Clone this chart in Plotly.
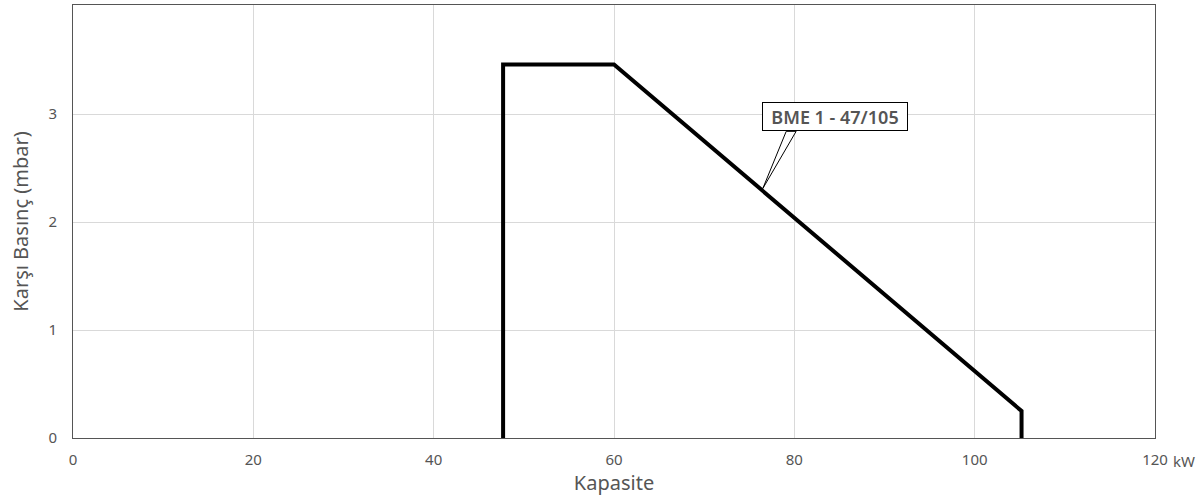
import plotly.graph_objects as go

capacity_kw = [47.7, 47.7, 60.0, 105.2, 105.2]
back_pressure_mbar = [0.0, 3.46, 3.46, 0.25, 0.0]
series_name = "BME 1 - 47/105"
label_point = (76.5, 2.31)      # where the callout points on the curve
label_box = (84.5, 2.975)       # centre of the callout box
label_wedge_base = ([79.1, 80.2], 2.84)

x_ticks = [0, 20, 40, 60, 80, 100, 120]
y_ticks = [0, 1, 2, 3]
x_unit = "kW"

FONT = "Noto Sans"
GRAY = "#555555"

fig = go.Figure()
fig.add_trace(go.Scatter(
    x=capacity_kw, y=back_pressure_mbar, mode="lines",
    line=dict(color="black", width=4), name=series_name, showlegend=False,
    hoverinfo="skip",
))

# callout wedge
(bx0, bx1), by = label_wedge_base
fig.add_shape(
    type="path", xref="x", yref="y",
    path=f"M {bx0} {by} L {label_point[0]} {label_point[1]} L {bx1} {by} Z",
    fillcolor="white", line=dict(color="black", width=1), layer="above",
)
fig.add_annotation(
    x=label_box[0], y=label_box[1], xref="x", yref="y",
    text=series_name, showarrow=False, xanchor="center", yanchor="middle",
    width=140, height=23, align="center",
    bgcolor="white", bordercolor="black", borderwidth=1, borderpad=2,
    font=dict(family=FONT, size=18, color="#555555", weight=600),
)
fig.add_annotation(
    x=1, y=0, xref="paper", yref="paper", text=x_unit, showarrow=False,
    xanchor="left", yanchor="middle", xshift=16, yshift=-23,
    font=dict(family=FONT, size=15, color=GRAY),
)

fig.update_layout(
    width=1200, height=500,
    margin=dict(l=73, r=45, t=5, b=62),
    plot_bgcolor="white", paper_bgcolor="white",
    font=dict(family=FONT, color=GRAY),
    xaxis=dict(
        range=[0, 120], tickvals=x_ticks, ticktext=[str(v) for v in x_ticks],
        showgrid=True, gridcolor="#d9d9d9", gridwidth=1,
        showline=True, linecolor="#555555", linewidth=1, mirror=True,
        zeroline=False, ticks="", tickfont=dict(size=15, color=GRAY),
        ticklabelstandoff=8,
        title=dict(text="Kapasite", font=dict(size=20, color=GRAY), standoff=4),
    ),
    yaxis=dict(
        range=[0, 4.01], tickvals=y_ticks,
        showgrid=True, gridcolor="#d9d9d9", gridwidth=1,
        showline=True, linecolor="#555555", linewidth=1, mirror=True,
        zeroline=False, ticks="", tickfont=dict(size=15, color=GRAY),
        ticklabelstandoff=12,
        title=dict(text="Karşı Basınç (mbar)", font=dict(size=20, color=GRAY), standoff=14),
    ),
)

fig.write_html("out.html", config={"displayModeBar": False},
               post_script="document.body.style.margin='0';")
